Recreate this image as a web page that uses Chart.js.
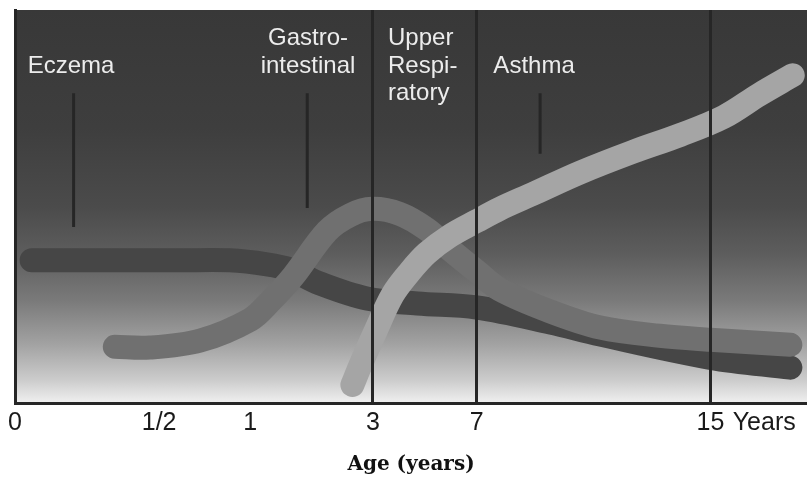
<!DOCTYPE html>
<html>
<head>
<meta charset="utf-8">
<script src="https://cdn.jsdelivr.net/npm/chart.js@4.4.1/dist/chart.umd.min.js"></script>
<style>
  html, body { margin: 0; padding: 0; background: #fff; }
  #wrap { width: 807px; height: 477px; }
</style>
</head>
<body>
<div id="wrap"><canvas id="marchChart"></canvas></div>
<script>
// x runs 0..100 along the age axis (the stages are not evenly spaced), y is relative prevalence 0..100
const tickValues = [0, 18.2, 29.7, 45.2, 58.3, 87.8, 94.6];
const tickLabels = ['0', '1/2', '1', '3', '7', '15', 'Years'];
const stageLines = ['3', '7', '15']; // ticks that get a vertical divider

const eczemaX = [2.1, 10.7, 20.8, 27.1, 31.8, 34.7, 38.5, 44.4, 50.8, 58.3, 67.6, 73.9, 87.8, 97.9];
const eczemaY = [36.3, 36.3, 36.3, 36.3, 35.3, 34.0, 30.4, 26.6, 25.3, 24.3, 20.5, 17.4, 11.5, 9.0];

const gastroX = [12.6, 17.0, 23.4, 29.7, 32.2, 35.1, 39.4, 42.3, 45.1, 48.6, 52.0, 54.9, 58.3, 61.2, 67.6, 73.9, 81.4, 87.8, 97.9];
const gastroY = [14.3, 14.1, 15.9, 21.2, 25.8, 32.2, 43.7, 47.8, 49.4, 48.1, 44.2, 39.1, 33.5, 28.9, 23.3, 19.2, 17.1, 16.1, 14.8];

const respX = [42.6, 43.8, 45.5, 47.7, 49.9, 52.0, 54.9, 58.3, 61.2, 65.4, 71.3, 78.0, 84.0, 89.5, 94.0, 98.2];
const respY = [4.6, 10.5, 18.2, 27.6, 33.5, 38.1, 42.5, 46.3, 49.4, 53.2, 58.6, 63.9, 68.2, 72.8, 78.5, 83.4];

// short pointer lines under the disease names
const markerX = [7.4, 36.9, 66.3];
const markerTop = [78.8, 78.8, 78.8];
const markerBottom = [44.8, 49.6, 63.4];

function toPoints(xs, ys) {
    return xs.map((x, i) => ({ x: x, y: ys[i] }));
}

const bandStyle = {
    borderWidth: 24,
    borderCapStyle: 'round',
    borderJoinStyle: 'round',
    pointRadius: 0,
    fill: false,
    tension: 0.35
};

const datasets = [
    Object.assign({ label: 'Eczema', data: toPoints(eczemaX, eczemaY), borderColor: '#464646', order: 3 }, bandStyle),
    Object.assign({ label: 'Gastrointestinal', data: toPoints(gastroX, gastroY), borderColor: '#707070', order: 2 }, bandStyle),
    Object.assign({ label: 'Upper Respiratory / Asthma', data: toPoints(respX, respY), borderColor: '#a5a5a5', order: 1 }, bandStyle)
];

markerX.forEach((x, i) => {
    datasets.push({
        label: 'marker' + i,
        data: [{ x: x, y: markerTop[i] }, { x: x, y: markerBottom[i] }],
        borderColor: '#262626',
        borderWidth: 3,
        pointRadius: 0,
        order: 0
    });
});

// gray vertical gradient behind the plot
const backgroundPlugin = {
    id: 'gradientBg',
    beforeDraw(chart) {
        const { ctx, chartArea } = chart;
        const g = ctx.createLinearGradient(0, chartArea.top, 0, chartArea.bottom);
        g.addColorStop(0, '#383838');
        g.addColorStop(0.3, '#3e3e3e');
        g.addColorStop(0.5, '#4b4b4b');
        g.addColorStop(0.62, '#5d5d5d');
        g.addColorStop(0.74, '#7a7a7a');
        g.addColorStop(0.85, '#a2a2a2');
        g.addColorStop(0.94, '#cbcbcb');
        g.addColorStop(1, '#f0f0f0');
        ctx.save();
        ctx.fillStyle = g;
        ctx.fillRect(chartArea.left, chartArea.top, chartArea.right - chartArea.left, chartArea.bottom - chartArea.top);
        ctx.restore();
    }
};

// disease names written inside the plot
const stageNames = [
    { text: 'Eczema', x: 1.6, y: 83.9, align: 'left' },
    { text: 'Gastro-', x: 37.0, y: 91.0, align: 'center' },
    { text: 'intestinal', x: 37.0, y: 83.9, align: 'center' },
    { text: 'Upper', x: 47.1, y: 91.0, align: 'left' },
    { text: 'Respi-', x: 47.1, y: 84.0, align: 'left' },
    { text: 'ratory', x: 47.1, y: 77.0, align: 'left' },
    { text: 'Asthma', x: 60.4, y: 83.9, align: 'left' }
];

const namesPlugin = {
    id: 'stageNames',
    afterDatasetsDraw(chart) {
        const { ctx, scales } = chart;
        ctx.save();
        ctx.fillStyle = '#ececec';
        ctx.font = '24px "Liberation Sans", Arial, sans-serif';
        ctx.textBaseline = 'alphabetic';
        stageNames.forEach(n => {
            ctx.textAlign = n.align;
            ctx.fillText(n.text, scales.x.getPixelForValue(n.x), scales.y.getPixelForValue(n.y));
        });
        ctx.restore();
    }
};

new Chart(document.getElementById('marchChart'), {
    type: 'line',
    data: { datasets: datasets },
    options: {
        responsive: true,
        maintainAspectRatio: false,
        animation: false,
        layout: { padding: { left: 15, right: 0, top: 10, bottom: 0 } },
        plugins: {
            legend: { display: false },
            tooltip: { enabled: false }
        },
        scales: {
            x: {
                type: 'linear',
                min: 0,
                max: 100,
                afterBuildTicks: axis => {
                    axis.ticks = tickValues.map(v => ({ value: v }));
                },
                ticks: {
                    autoSkip: false,
                    maxRotation: 0,
                    padding: 5,
                    color: '#1a1a1a',
                    font: { family: 'Liberation Sans', size: 25 },
                    callback: (value, index) => tickLabels[index]
                },
                grid: {
                    z: 1,
                    drawTicks: false,
                    lineWidth: 3,
                    color: c => stageLines.includes(tickLabels[c.index]) ? '#262626' : 'rgba(0,0,0,0)'
                },
                border: { display: true, color: '#262626', width: 3, z: 2 },
                title: {
                    display: true,
                    text: 'Age (years)',
                    color: '#111',
                    font: { family: 'DejaVu Serif', weight: 'bold', size: 20 },
                    padding: { top: 10, bottom: 0 }
                }
            },
            y: {
                min: 0,
                max: 100,
                ticks: { display: false },
                grid: { display: false, drawTicks: false },
                border: { display: true, color: '#262626', width: 3 }
            }
        }
    },
    plugins: [backgroundPlugin, namesPlugin]
});
</script>
</body>
</html>
